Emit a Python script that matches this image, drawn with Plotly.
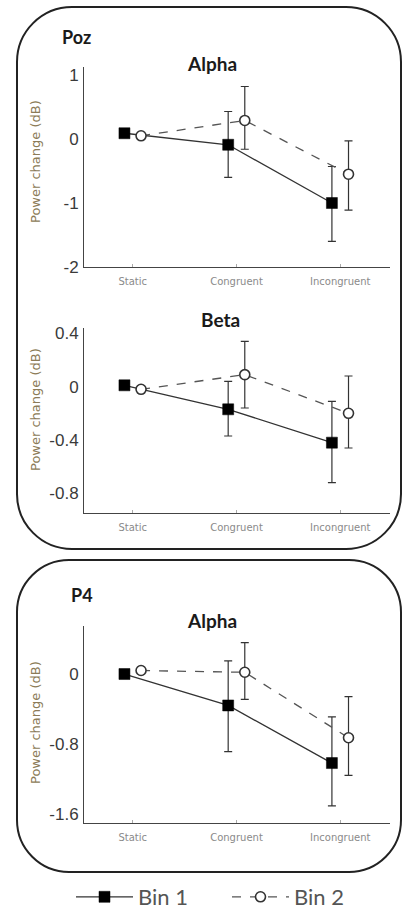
import plotly.graph_objects as go

# Conditions shared by every panel
categories = ["Static", "Congruent", "Incongruent"]

# Poz - Alpha power change (dB)
poz_alpha_bin1 = [0.09, -0.09, -1.00]
poz_alpha_bin1_up = [0.0, 0.52, 0.57]
poz_alpha_bin1_dn = [0.0, 0.51, 0.60]
poz_alpha_bin2 = [0.05, 0.29, -0.55]
poz_alpha_bin2_up = [0.0, 0.53, 0.52]
poz_alpha_bin2_dn = [0.0, 0.45, 0.56]

# Poz - Beta power change (dB)
poz_beta_bin1 = [0.01, -0.17, -0.42]
poz_beta_bin1_up = [0.0, 0.21, 0.31]
poz_beta_bin1_dn = [0.0, 0.20, 0.30]
poz_beta_bin2 = [-0.02, 0.09, -0.20]
poz_beta_bin2_up = [0.0, 0.25, 0.28]
poz_beta_bin2_dn = [0.0, 0.25, 0.26]

# P4 - Alpha power change (dB)
p4_alpha_bin1 = [0.00, -0.36, -1.02]
p4_alpha_bin1_up = [0.0, 0.51, 0.53]
p4_alpha_bin1_dn = [0.0, 0.53, 0.49]
p4_alpha_bin2 = [0.04, 0.02, -0.73]
p4_alpha_bin2_up = [0.0, 0.34, 0.47]
p4_alpha_bin2_dn = [0.0, 0.31, 0.43]

# Y tick labels per panel
poz_alpha_ticks = [1, 0, -1, -2]
poz_beta_ticks = [0.4, 0, -0.4, -0.8]
p4_alpha_ticks = [0, -0.8, -1.6]

W, H = 403, 913
DODGE = 0.08  # horizontal shift of the two bins around each condition


def px_x(x):
    return x / W


def px_y(y):
    return 1 - y / H


panels = [
    dict(ax="", b1=(poz_alpha_bin1, poz_alpha_bin1_up, poz_alpha_bin1_dn),
         b2=(poz_alpha_bin2, poz_alpha_bin2_up, poz_alpha_bin2_dn),
         ticks=poz_alpha_ticks, rng=[-2.0, 1.125], top=67, bot=267, legend=True),
    dict(ax="2", b1=(poz_beta_bin1, poz_beta_bin1_up, poz_beta_bin1_dn),
         b2=(poz_beta_bin2, poz_beta_bin2_up, poz_beta_bin2_dn),
         ticks=poz_beta_ticks, rng=[-0.95, 0.44], top=328, bot=513.3, legend=False),
    dict(ax="3", b1=(p4_alpha_bin1, p4_alpha_bin1_up, p4_alpha_bin1_dn),
         b2=(p4_alpha_bin2, p4_alpha_bin2_up, p4_alpha_bin2_dn),
         ticks=p4_alpha_ticks, rng=[-1.71, 0.55], top=626, bot=823.3, legend=False),
]

fig = go.Figure()
idx = list(range(len(categories)))
err_color = "#333333"

for p in panels:
    xa, ya = "x" + p["ax"], "y" + p["ax"]
    y1, u1, d1 = p["b1"]
    y2, u2, d2 = p["b2"]
    fig.add_trace(go.Scatter(
        x=[i - DODGE for i in idx], y=y1, xaxis=xa, yaxis=ya,
        mode="lines+markers", name="Bin 1", showlegend=p["legend"],
        line=dict(color="#333333", width=1.3),
        marker=dict(symbol="square", size=11, color="#000000",
                    line=dict(color="#000000", width=0.5)),
        error_y=dict(type="data", symmetric=False, array=u1, arrayminus=d1,
                     color=err_color, thickness=1.2, width=4),
    ))
    fig.add_trace(go.Scatter(
        x=[i + DODGE for i in idx], y=y2, xaxis=xa, yaxis=ya,
        mode="lines+markers", name="Bin 2", showlegend=p["legend"],
        line=dict(color="#555555", width=1.3, dash="dash"),
        marker=dict(symbol="circle", size=10, color="#ffffff",
                    line=dict(color="#333333", width=1.6)),
        error_y=dict(type="data", symmetric=False, array=u2, arrayminus=d2,
                     color=err_color, thickness=1.2, width=4),
    ))

    xkey = "xaxis" + p["ax"]
    ykey = "yaxis" + p["ax"]
    fig.update_layout(**{
        xkey: dict(
            domain=[px_x(84), px_x(390)], anchor=ya, range=[-0.47, 2.48],
            tickmode="array", tickvals=idx, ticktext=categories,
            showline=True, linecolor="#444444", linewidth=1,
            ticks="inside", ticklen=3, tickcolor="#aaaaaa",
            showgrid=False, zeroline=False, ticklabelstandoff=5,
            tickfont=dict(family="DejaVu Sans", size=10, color="#8a8a8a"),
        ),
        ykey: dict(
            domain=[px_y(p["bot"]), px_y(p["top"])], anchor=xa, range=p["rng"],
            tickmode="array", tickvals=p["ticks"],
            ticktext=[("%g" % t).replace("\u2212", "-") for t in p["ticks"]],
            showline=True, linecolor="#444444", linewidth=1,
            ticks="", showgrid=False, zeroline=False, ticklabelstandoff=1,
            tickfont=dict(family="Liberation Sans", size=17, color="#3a3a3a"),
        ),
    })

# Rounded frames around each electrode group
def rounded_box(x0, y0, x1, y1, r):
    k = 0.5523 * r
    pts = [
        ("M", [(x0 + r, y0)]),
        ("L", [(x1 - r, y0)]),
        ("C", [(x1 - r + k, y0), (x1, y0 + r - k), (x1, y0 + r)]),
        ("L", [(x1, y1 - r)]),
        ("C", [(x1, y1 - r + k), (x1 - r + k, y1), (x1 - r, y1)]),
        ("L", [(x0 + r, y1)]),
        ("C", [(x0 + r - k, y1), (x0, y1 - r + k), (x0, y1 - r)]),
        ("L", [(x0, y0 + r)]),
        ("C", [(x0, y0 + r - k), (x0 + r - k, y0), (x0 + r, y0)]),
    ]
    path = ""
    for cmd, coords in pts:
        path += cmd + " " + " ".join("%.5f,%.5f" % (px_x(a), px_y(b)) for a, b in coords) + " "
    return path + "Z"


for box in [(17, 7, 401, 549, 55), (17, 560, 401, 872, 52)]:
    fig.add_shape(type="path", path=rounded_box(*box), xref="paper", yref="paper",
                  line=dict(color="#222222", width=2), fillcolor="rgba(0,0,0,0)")

# Panel labels and titles
labels = [
    ("Poz", 76, 37, 18),
    ("Alpha", 212, 63, 19),
    ("Beta", 220, 320, 19),
    ("P4", 82, 595, 18),
    ("Alpha", 212, 620, 19),
]
for text, x, y, size in labels:
    fig.add_annotation(text="<b>%s</b>" % text, x=px_x(x), y=px_y(y),
                       xref="paper", yref="paper", showarrow=False,
                       xanchor="center", yanchor="middle",
                       font=dict(family="Lato", size=size, color="#1a1a1a"))

for yc in [162, 410, 723]:
    fig.add_annotation(text="Power change (dB)", x=px_x(35), y=px_y(yc),
                       xref="paper", yref="paper", showarrow=False, textangle=-90,
                       xanchor="center", yanchor="middle",
                       font=dict(family="DejaVu Sans", size=13, color="#8c7b57"))

fig.update_layout(
    width=W, height=H,
    margin=dict(l=0, r=0, t=0, b=0, autoexpand=False),
    paper_bgcolor="#ffffff", plot_bgcolor="#ffffff",
    showlegend=True,
    legend=dict(orientation="h", x=px_x(71), xanchor="left", y=px_y(876),
                yanchor="top", itemwidth=57, entrywidth=84,
                font=dict(family="Lato", size=22, color="#555555"),
                bgcolor="rgba(0,0,0,0)"),
)

fig.write_html("out.html")
